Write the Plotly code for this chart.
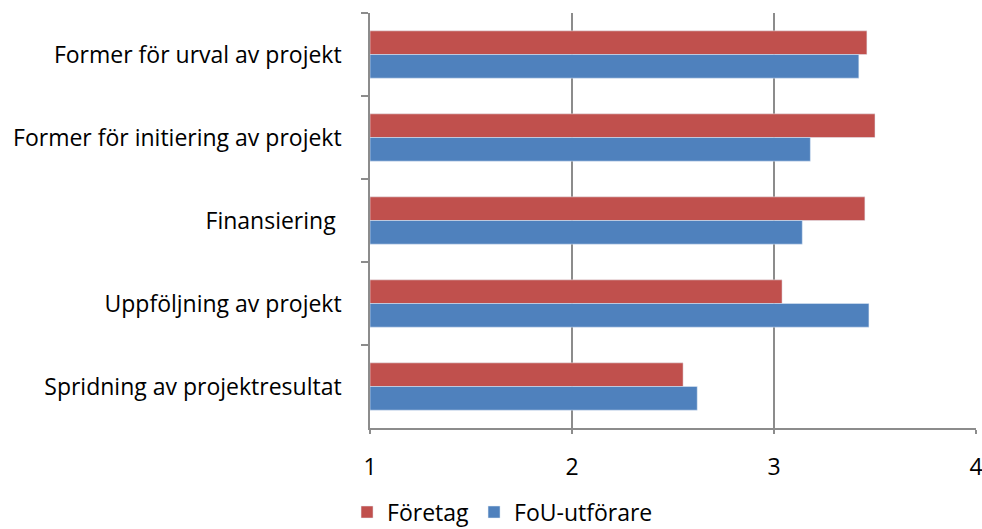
import plotly.graph_objects as go

categories = [
    "Former för urval av projekt",
    "Former för initiering av projekt",
    "Finansiering ",
    "Uppföljning av projekt",
    "Spridning av projektresultat",
]
foretag = [3.46, 3.50, 3.45, 3.04, 2.55]
fou = [3.42, 3.18, 3.14, 3.47, 2.62]
x_ticks = [1, 2, 3, 4]

RED = "#C0504D"
BLUE = "#4F81BD"
GRID = "#8C8C8C"
FONT = dict(family="Open Sans, sans-serif", size=23, color="#000000")

fig = go.Figure()
fig.add_trace(go.Bar(y=categories, x=[v - 1 for v in foretag], base=1, orientation="h",
                     name="Företag", marker=dict(color=RED)))
fig.add_trace(go.Bar(y=categories, x=[v - 1 for v in fou], base=1, orientation="h",
                     name="FoU-utförare", marker=dict(color=BLUE)))

fig.update_layout(
    width=982, height=529,
    margin=dict(l=370, r=6, t=13, b=101, autoexpand=False),
    paper_bgcolor="white", plot_bgcolor="white",
    barmode="group", bargap=0.43, bargroupgap=0,
    font=FONT,
    showlegend=True,
    legend=dict(orientation="h", x=0.3534, xref="container", xanchor="left",
                y=0.032, yref="container", yanchor="middle", font=FONT,
                itemwidth=30, tracegroupgap=0),
    xaxis=dict(range=[0.9999, 4.0001], tickvals=x_ticks, ticktext=[str(t) for t in x_ticks],
               showgrid=True, gridcolor=GRID, gridwidth=1.5,
               showline=True, linecolor=GRID, linewidth=1.5,
               ticks="outside", ticklen=4, tickcolor=GRID, tickwidth=1.5,
               zeroline=False, ticklabelstandoff=14, automargin=False,
               ticklabeloverflow="allow"),
    yaxis=dict(type="category", categoryorder="array", categoryarray=categories,
               autorange="reversed", tickson="boundaries",
               showgrid=False, showline=True, linecolor=GRID, linewidth=1.5,
               ticks="outside", ticklen=7, tickcolor=GRID, tickwidth=1.5,
               ticklabelstandoff=22, automargin=False),
)

fig.write_html("out.html", config={"displayModeBar": False},
               post_script="document.body.style.margin='0';document.body.style.overflow='hidden';")
